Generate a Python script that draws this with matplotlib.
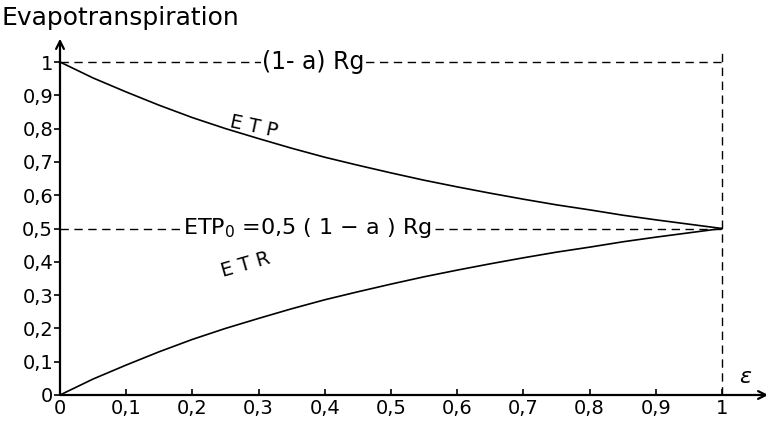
import matplotlib
matplotlib.use("Agg")
import matplotlib.pyplot as plt

# values (epsilon = 0 .. 1)
EPS = [0.0, 0.05, 0.1, 0.15, 0.2, 0.25, 0.3, 0.35, 0.4, 0.45, 0.5,
       0.55, 0.6, 0.65, 0.7, 0.75, 0.8, 0.85, 0.9, 0.95, 1.0]
ETP = [1.0, 0.952, 0.91, 0.87, 0.833, 0.8, 0.77, 0.741, 0.714, 0.69, 0.667,
       0.645, 0.625, 0.606, 0.588, 0.571, 0.556, 0.54, 0.526, 0.513, 0.5]
ETR = [0.0, 0.048, 0.09, 0.13, 0.167, 0.2, 0.23, 0.259, 0.286, 0.31, 0.333,
       0.355, 0.375, 0.394, 0.412, 0.429, 0.444, 0.46, 0.474, 0.487, 0.5]
YTICKS = [0, 0.1, 0.2, 0.3, 0.4, 0.5, 0.6, 0.7, 0.8, 0.9, 1.0]
YLABELS = ["0", "0,1", "0,2", "0,3", "0,4", "0,5", "0,6", "0,7", "0,8", "0,9", "1"]
XTICKS = YTICKS
XLABELS = ["0", "0,1", "0,2", "0,3", "0,4", "0,5", "0,6", "0,7", "0,8", "0,9", "1"]

plt.rcParams["font.family"] = ["DejaVu Sans"]
FS = 14

fig = plt.figure(figsize=(7.66, 4.25), dpi=100)
XMAX, YMAX = 1.07, 1.07
# data 0 -> px 60, 1 -> px 722 ; y 0 -> px 395, 1 -> px 62 (from top)
ax = fig.add_axes([60 / 766, 30 / 425, 662 * XMAX / 766, 333 * YMAX / 425])
ax.set_xlim(0, XMAX); ax.set_ylim(0, YMAX)
for s in ax.spines.values():
    s.set_visible(False)

# axes with open arrow heads
arrow = dict(arrowstyle="->", lw=1.6, color="black",
             mutation_scale=14, shrinkA=0, shrinkB=0)
ax.annotate("", xy=(0, YMAX), xytext=(0, 0), arrowprops=arrow, annotation_clip=False)
ax.annotate("", xy=(XMAX, 0), xytext=(0, 0), arrowprops=arrow, annotation_clip=False)

ax.set_yticks(YTICKS); ax.set_yticklabels(YLABELS, fontsize=FS)
ax.set_xticks(XTICKS); ax.set_xticklabels(XLABELS, fontsize=FS)
ax.tick_params(axis="y", direction="out", length=4, width=1.2, pad=1)
ax.tick_params(axis="x", direction="in", length=4, width=1.2, pad=3)

dash = dict(color="black", lw=1.0, dashes=(6, 4))
ax.plot([0, 1.005], [1, 1], **dash)
ax.plot([0, 1.0], [0.5, 0.5], **dash)
ax.plot([1, 1], [0, 1.036], **dash)

ax.plot(EPS, ETP, color="black", lw=1.2)
ax.plot(EPS, ETR, color="black", lw=1.2)

bb = dict(facecolor="white", edgecolor="none", pad=1)
ax.text(0.383, 1.0, "(1- a) Rg", fontsize=17, ha="center", va="center", bbox=bb)
ax.text(0.373, 0.5, r"ETP$_0$ =0,5 ( 1 $-$ a ) Rg", fontsize=16,
        ha="center", va="center", bbox=bb)
ax.text(0.293, 0.805, "E T P", fontsize=FS, ha="center", va="center", rotation=-12)
ax.text(0.28, 0.39, "E T R", fontsize=FS, ha="center", va="center", rotation=16)
ax.text(1.035, 0.055, r"$\varepsilon$", fontsize=16, ha="center", va="center")

fig.text(2 / 766, 1 - 18 / 425, "Evapotranspiration", fontsize=18,
         ha="left", va="center")

fig.savefig("out.png", dpi=100)
